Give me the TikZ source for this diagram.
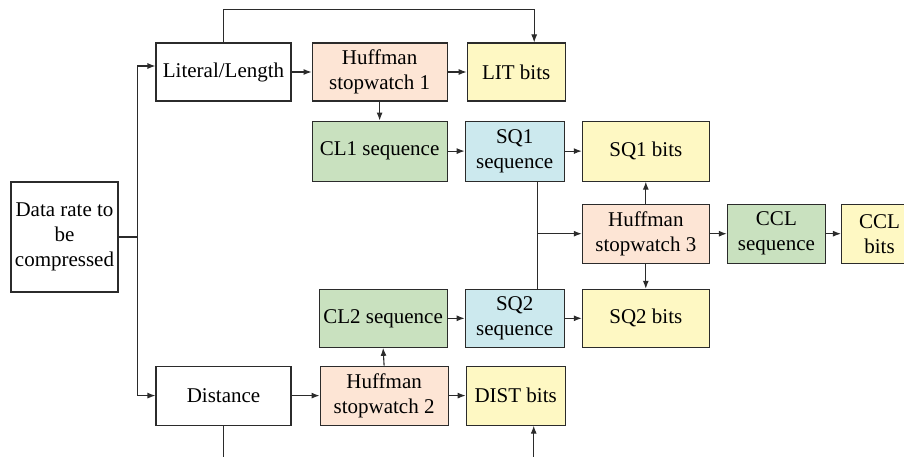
\documentclass[tikz,border=0pt]{standalone}
\usepackage{fontspec}
\setmainfont{Liberation Serif}
\usetikzlibrary{arrows.meta,positioning}
\definecolor{edge}{HTML}{2B2B2B}
\definecolor{peach}{HTML}{FDE5D5}
\definecolor{leaf}{HTML}{C9E1BF}
\definecolor{sky}{HTML}{CCE9EE}
\definecolor{straw}{HTML}{FEF8C3}

\begin{document}
\begin{tikzpicture}[x=1pt,y=1pt,font=\fontsize{21}{25}\selectfont,
      box/.style={draw=edge,line width=1.1pt,align=center,inner sep=1pt,minimum height=58pt},
      flow/.style={-{Latex[length=8pt,width=6pt]},line width=1.1pt,edge}]
    \clip (0,0) rectangle (904,-457);
    \node[box,minimum width=107pt,minimum height=110pt] (data) at (64.5,-237) {Data rate to\\be\\compressed};
    \node[box,minimum width=135pt] (lit) at (223.5,-72) {Literal/Length};
    \node[box,fill=peach,minimum width=135pt,right=20pt of lit] (h1) {Huffman\\stopwatch 1};
    \node[box,fill=straw,minimum width=98pt,right=19pt of h1] (litbits) {LIT bits};
    \node[box,fill=leaf,minimum width=135pt,minimum height=60pt,below=19pt of h1] (cl1) {CL1 sequence};
    \node[box,fill=sky,minimum width=99pt,minimum height=60pt,right=17pt of cl1] (sq1) {SQ1\\sequence};
    \node[box,fill=straw,minimum width=127pt,minimum height=60pt,right=17pt of sq1] (sq1bits) {SQ1 bits};
    \node[box,fill=peach,minimum width=127pt,minimum height=59pt,below=22pt of sq1bits] (h3) {Huffman\\stopwatch 3};
    \node[box,fill=leaf,minimum width=98pt,minimum height=59pt,right=17pt of h3] (ccl) {CCL\\sequence};
    \node[box,fill=straw,minimum width=76pt,minimum height=59pt,right=15pt of ccl] (cclbits) {CCL\\bits};
    \node[box,fill=straw,minimum width=127pt,below=25pt of h3] (sq2bits) {SQ2 bits};
    \node[box,fill=sky,minimum width=99pt,left=17pt of sq2bits] (sq2) {SQ2\\sequence};
    \node[box,fill=leaf,minimum width=128pt,left=17pt of sq2] (cl2) {CL2 sequence};
    \node[box,minimum width=135pt,minimum height=59pt,below=264pt of lit] (dist) {Distance};
    \node[box,fill=peach,minimum width=128pt,minimum height=59pt,right=28pt of dist] (h2) {Huffman\\stopwatch 2};
    \node[box,fill=straw,minimum width=99pt,minimum height=59pt,right=17pt of h2] (distbits) {DIST bits};
    \coordinate (split) at ([xshift=19pt]data.east);
    \coordinate (litup) at ([yshift=33pt]lit.north);
    \coordinate (distdown) at ([yshift=-40pt]dist.south);
    % input split
    \draw[line width=1.1pt,edge] (data.east) -- (split);
    \draw[flow] (split) |- ([yshift=6pt]lit.west);
    \draw[flow] (split) |- (dist.west);
    % literal branch
    \draw[flow] (lit) -- (h1);
    \draw[flow] (h1) -- (litbits);
    \draw[flow] (lit.north) -- (litup) -| ([xshift=18pt]litbits.north);
    \draw[flow] (h1.south) -- (cl1.north);
    \draw[flow] (cl1) -- (sq1);
    \draw[flow] (sq1) -- (sq1bits);
    % distance branch
    \draw[flow] (dist) -- (h2);
    \draw[flow] (h2) -- (distbits);
    \draw[flow] (dist.south) -- (distdown) -| ([xshift=18pt]distbits.south);
    \draw[flow] (h2.north) -- (cl2.south);
    \draw[flow] (cl2) -- (sq2);
    \draw[flow] (sq2) -- (sq2bits);
    % third stopwatch
    \draw[line width=1.1pt,edge] ([xshift=23pt]sq1.south) -- ([xshift=23pt]sq2.north);
    \draw[flow] ([xshift=23pt]sq1.south |- h3.west) -- (h3.west);
    \draw[flow] (h3) -- (sq1bits);
    \draw[flow] (h3) -- (sq2bits);
    \draw[flow] (h3) -- (ccl);
    \draw[flow] (ccl) -- (cclbits);
  \end{tikzpicture}
\end{document}
